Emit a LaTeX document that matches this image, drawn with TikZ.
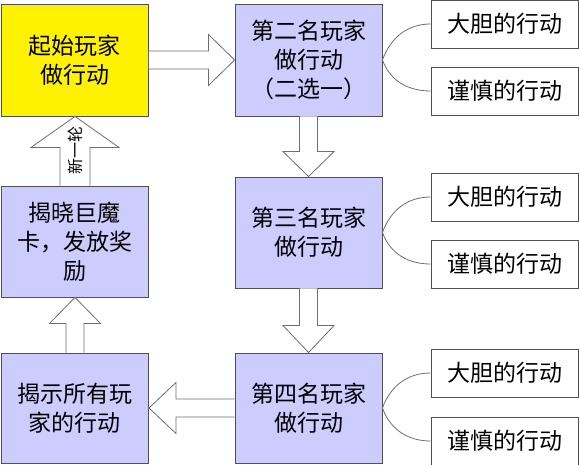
\documentclass[tikz,border=0pt]{standalone}
\usepackage{fontspec}
\newfontfamily\cjk{Noto Sans CJK SC}
\usetikzlibrary{calc,positioning}
\definecolor{lavender}{RGB}{204,204,255}
\definecolor{boxline}{RGB}{80,80,80}
\definecolor{arrowline}{RGB}{110,110,110}
\tikzstyle{stage} =[draw=boxline, line width=0.9pt, fill=lavender,
                    minimum width=147pt, minimum height=111pt,
                    inner sep=2pt, align=center, text width=140pt,
                    font=\cjk\fontsize{23}{29}\selectfont]
\tikzstyle{choice}=[draw=boxline, line width=0.9pt, fill=white,
                    minimum width=147pt, minimum height=48pt,
                    inner sep=2pt, font=\cjk\fontsize{23}{28}\selectfont]
\tikzstyle{branch}=[draw=arrowline, line width=0.8pt]
\tikzstyle{blockarrow}=[draw=arrowline, fill=white, line width=0.8pt,
                    line join=miter]
% block arrow: from, to, shaft half width, head half width, head length
\newcommand{\blockarrow}[5]{%
  \coordinate (ba) at ($(#2)!#5!(#1)$);
  \draw[blockarrow] ($(#1)!#3!90:(#2)$) -- ($(ba)!#3!90:(#2)$)
    -- ($(ba)!#4!90:(#2)$) -- (#2) -- ($(ba)!#4!-90:(#2)$)
    -- ($(ba)!#3!-90:(#2)$) -- ($(#1)!#3!-90:(#2)$);
}

\begin{document}
\begin{tikzpicture}[x=1pt, y=1pt]
  \useasboundingbox (0,0) rectangle (580,465);

  \node[stage, fill=yellow, minimum height=112pt] (start)  at (75,405)    {起始玩家\\做行动};
  \node[stage, minimum height=112pt]              (p2)     at (308.5,405) {第二名玩家\\做行动\\（二选一）};
  \node[stage]                                    (p3)     at (308.5,232.5) {第三名玩家\\做行动};
  \node[stage, minimum height=110pt]              (p4)     at (308.5,57)  {第四名玩家\\做行动};
  \node[stage]                                    (reveal) at (75,223.5)  {揭晓巨魔\\卡，发放奖\\励};
  \node[stage, minimum height=110pt]              (show)   at (75,57)     {揭示所有玩\\家的行动};

  \node[choice] (bold2)    at (504.5,441) {大胆的行动};
  \node[choice] (careful2) at (504.5,374) {谨慎的行动};
  \node[choice] (bold3)    at (504.5,268) {大胆的行动};
  \node[choice] (careful3) at (504.5,201) {谨慎的行动};
  \node[choice] (bold4)    at (504.5,92)  {大胆的行动};
  \node[choice] (careful4) at (504.5,24)  {谨慎的行动};

  \foreach \p in {2,3,4}{
    \draw[branch] (p\p.east) to[out=70, in=180] (bold\p.west);
    \draw[branch] (p\p.east) to[out=-70, in=180] (careful\p.west);
  }

  \blockarrow{start.east}{p2.west}{9pt}{25.5pt}{26pt}
  \blockarrow{p2.south}{p3.north}{9pt}{25.5pt}{25pt}
  \blockarrow{p3.south}{p4.north}{9pt}{25.5pt}{27pt}
  \blockarrow{p4.west}{show.east}{9pt}{25.5pt}{27pt}
  \blockarrow{show.north}{reveal.south}{9pt}{25.5pt}{26pt}
  \blockarrow{reveal.north}{start.south}{15pt}{44pt}{31pt}

  \node[rotate=90, font=\cjk\fontsize{16}{16}\selectfont, inner sep=0pt] (round)
    at ($(reveal.north)!0.5!(start.south)$) {新一轮};
\end{tikzpicture}
\end{document}
